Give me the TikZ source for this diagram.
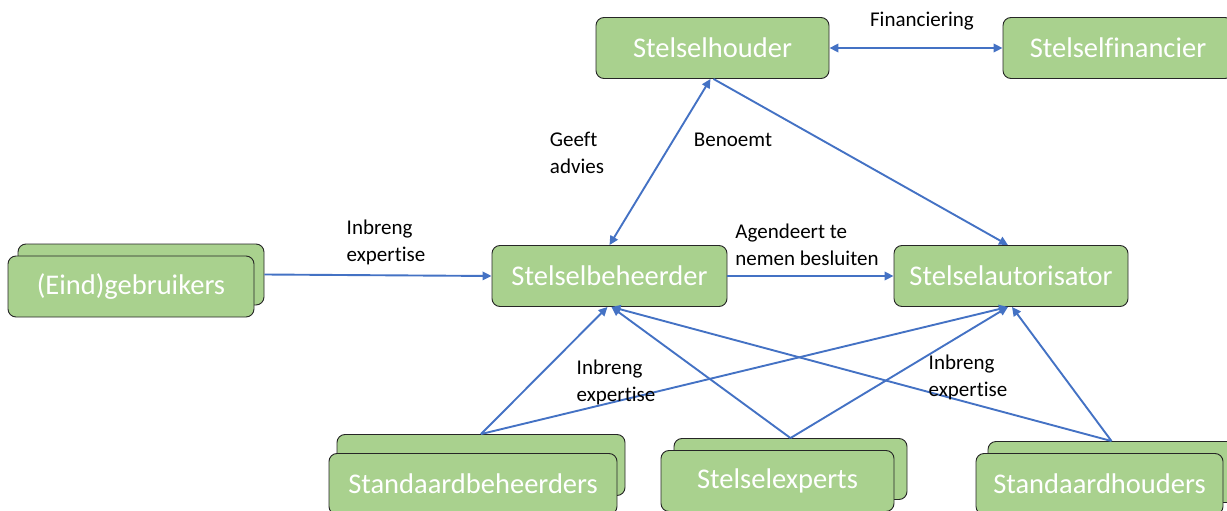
\documentclass[tikz,border=0pt]{standalone}
\usepackage{fontspec}
\setmainfont{Carlito}[Ligatures=NoCommon]
\usetikzlibrary{arrows.meta}
\definecolor{boxgreen}{HTML}{A9D18E}
\definecolor{linkblue}{HTML}{4472C4}
\tikzset{
  rolebox/.style={draw=black!85, line width=0.9pt, fill=boxgreen, rounded corners=8pt,
    text=white, font=\fontsize{28.5}{32}\selectfont, minimum height=61pt, inner sep=0pt},
  link/.style={draw=linkblue, line width=1.9pt, -{Triangle[length=9pt,width=8.5pt]}},
  duallink/.style={link, {Triangle[length=9pt,width=8.5pt]}-{Triangle[length=9pt,width=8.5pt]}},
  tag/.style={font=\fontsize{21}{27}\selectfont, align=left, inner sep=0pt, text=black}
}
\begin{document}
\begin{tikzpicture}[x=1pt, y=-1pt]
\useasboundingbox (0,0) rectangle (1227,511);
\clip (0,0) rectangle (1227,511);

% top row
\node[rolebox, minimum width=233pt] (houder) at (712.5,48) {Stelselhouder};
\node[rolebox, minimum width=230pt] (financier) at (1118,48) {Stelselfinancier};

% middle row
\node[rolebox, minimum width=235pt] (beheerder) at (609.5,276) {Stelselbeheerder};
\node[rolebox, minimum width=234pt] (autorisator) at (1011,276) {Stelselautorisator};

% stacked groups
\node[rolebox, minimum width=246pt] (gebruikersB) at (141,274.5) {};
\node[rolebox, minimum width=246pt] (gebruikers) at (131,286.5) {(Eind)gebruikers};

\node[rolebox, minimum width=288pt] (sbeheerdersB) at (481,465) {};
\node[rolebox, minimum width=288pt] (sbeheerders) at (473,484) {Standaardbeheerders};

\node[rolebox, minimum width=233pt] (expertsB) at (790.5,469) {};
\node[rolebox, minimum width=233pt] (experts) at (777.5,481) {Stelselexperts};

\node[rolebox, minimum width=247pt] (shoudersB) at (1111.5,472) {};
\node[rolebox, minimum width=247pt] (shouders) at (1099.5,484) {Standaardhouders};

% connectors
\draw[duallink] (houder.east) -- (financier.west);
\draw[duallink] (beheerder.north) -- ([xshift=-2pt]houder.south);
\draw[link] ([xshift=1pt]houder.south) -- ([xshift=-3pt]autorisator.north);
\draw[link] (gebruikersB.east) -- (beheerder.west);
\draw[link] (beheerder.east) -- (autorisator.west);

\draw[link] (sbeheerdersB.north) -- ([xshift=-2pt]beheerder.south);
\draw[link] (sbeheerdersB.north) -- ([xshift=-3pt]autorisator.south);
\draw[link] (expertsB.north) -- ([xshift=2pt]beheerder.south);
\draw[link] (expertsB.north) -- ([xshift=-3pt]autorisator.south);
\draw[link] (shoudersB.north) -- ([xshift=2pt]beheerder.south);
\draw[link] (shoudersB.north) -- ([xshift=1pt]autorisator.south);

% labels
\node[tag] (lFin) at (922,21) {Financiering};
\node[tag] (lAdv) at (577,153) {Geeft\\advies};
\node[tag] (lBen) at (733,140) {Benoemt};
\node[tag] (lInL) at (386,242) {Inbreng\\expertise};
\node[tag] (lAgd) at (807,245) {Agendeert te\\nemen besluiten};
\node[tag] (lInM) at (616,382) {Inbreng\\expertise};
\node[tag] (lInR) at (968,377) {Inbreng\\expertise};
\end{tikzpicture}
\end{document}
